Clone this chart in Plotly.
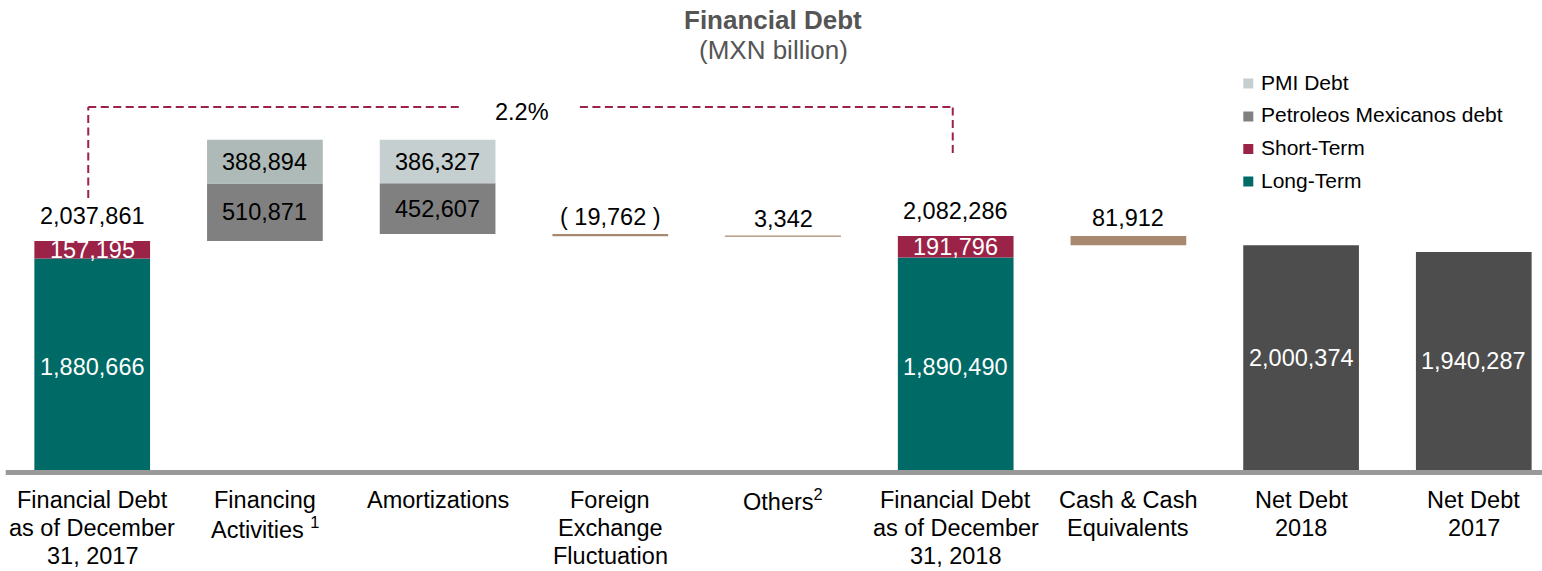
import plotly.graph_objects as go

# ---- data (MXN million) ----
categories = [
    "Financial Debt<br>as of December<br>31, 2017",
    "Financing<br>Activities <sup>1</sup>",
    "Amortizations",
    "Foreign<br>Exchange<br>Fluctuation",
    "Others<sup>2</sup>",
    "Financial Debt<br>as of December<br>31, 2018",
    "Cash & Cash<br>Equivalents",
    "Net Debt<br>2018",
    "Net Debt<br>2017",
]
long_term = [1880666, 1890490]          # 2017, 2018
short_term = [157195, 191796]           # 2017, 2018
pemex_debt = [510871, 452607]           # financing, amortizations
pmi_debt = [388894, 386327]             # financing, amortizations
fx_change = -19762
others_change = 3342
cash = 81912
net_debt = [2000374, 1940287]           # 2018, 2017

# ---- colours ----
TEAL = "#006a66"
MAROON = "#9b2347"
GRAY = "#808080"
PMI_FIN = "#aebab7"
PMI_AMO = "#c6cfcf"
TAN = "#a8896f"
DARK = "#4d4d4d"
FONT = "Liberation Sans, Arial, sans-serif"

# ---- waterfall levels ----
start_total = long_term[0] + short_term[0]
fin_top = start_total + pemex_debt[0] + pmi_debt[0]
amort_bottom = fin_top - (pemex_debt[1] + pmi_debt[1])
fx_end = amort_bottom + fx_change
others_end = fx_end + others_change
end_total = long_term[1] + short_term[1]
cash_bottom = end_total - cash
growth = (end_total / start_total - 1) * 100

c = categories
W, H, PLOT_H = 1542, 571, 470
BAR_W = 0.67


def fmt(v):
    return f"{v:,.0f}"


def pyp(p):
    # paper y from a pixel row measured from the top of the figure
    return (PLOT_H - p) / PLOT_H


fig = go.Figure()

fig.add_trace(go.Bar(x=[c[0], c[5]], y=long_term, base=[0, 0],
                     marker=dict(color=TEAL, line=dict(width=0)),
                     width=BAR_W, name="Long-Term", hoverinfo="skip"))
fig.add_trace(go.Bar(x=[c[0], c[5]], y=short_term, base=long_term,
                     marker=dict(color=MAROON, line=dict(width=0)),
                     width=BAR_W, name="Short-Term", hoverinfo="skip"))
fig.add_trace(go.Bar(x=[c[1], c[2]], y=pemex_debt,
                     base=[start_total, amort_bottom],
                     marker=dict(color=GRAY, line=dict(width=0)),
                     width=BAR_W, name="Petroleos Mexicanos debt", hoverinfo="skip"))
fig.add_trace(go.Bar(x=[c[1], c[2]], y=pmi_debt,
                     base=[start_total + pemex_debt[0], amort_bottom + pemex_debt[1]],
                     marker=dict(color=[PMI_FIN, PMI_AMO], line=dict(width=0)),
                     width=BAR_W, name="PMI Debt", hoverinfo="skip"))
fig.add_trace(go.Bar(x=[c[3]], y=[abs(fx_change)], base=[fx_end],
                     marker=dict(color=TAN, line=dict(width=0)),
                     width=BAR_W, name="FX", hoverinfo="skip"))
fig.add_trace(go.Bar(x=[c[4]], y=[others_change], base=[fx_end],
                     marker=dict(color=TAN, line=dict(width=0.7, color=TAN)),
                     width=BAR_W, name="Others", hoverinfo="skip"))
fig.add_trace(go.Bar(x=[c[6]], y=[cash], base=[cash_bottom],
                     marker=dict(color=TAN, line=dict(width=0)),
                     width=BAR_W, name="Cash", hoverinfo="skip"))
fig.add_trace(go.Bar(x=[c[7], c[8]], y=net_debt, base=[0, 0],
                     marker=dict(color=DARK, line=dict(width=0)),
                     width=BAR_W, name="Net Debt", hoverinfo="skip"))

ann = []


def label(x, y, text, color="black", yshift=0, size=23.5):
    ann.append(dict(x=x, y=y, xref="x", yref="y", text=text, showarrow=False,
                    xanchor="center", yanchor="middle", yshift=yshift,
                    font=dict(family=FONT, size=size, color=color)))


# values inside the segments
label(c[0], long_term[0] / 2, fmt(long_term[0]), "white", yshift=-3)
label(c[0], long_term[0] + short_term[0] / 2, fmt(short_term[0]), "white")
label(c[5], long_term[1] / 2, fmt(long_term[1]), "white", yshift=-3)
label(c[5], long_term[1] + short_term[1] / 2, fmt(short_term[1]), "white")
label(c[1], start_total + pemex_debt[0] / 2, fmt(pemex_debt[0]))
label(c[1], start_total + pemex_debt[0] + pmi_debt[0] / 2, fmt(pmi_debt[0]))
label(c[2], amort_bottom + pemex_debt[1] / 2, fmt(pemex_debt[1]))
label(c[2], amort_bottom + pemex_debt[1] + pmi_debt[1] / 2, fmt(pmi_debt[1]))
label(c[7], net_debt[0] / 2, fmt(net_debt[0]), "white")
label(c[8], net_debt[1] / 2, fmt(net_debt[1]), "white")

# values above the bars
label(c[0], start_total, fmt(start_total), yshift=25)
label(c[5], end_total, fmt(end_total), yshift=25)
label(c[3], amort_bottom, f"( {fmt(abs(fx_change))} )", yshift=17)
label(c[4], others_end, fmt(others_change), yshift=17)
label(c[6], end_total, fmt(cash), yshift=18)

# category labels, one annotation per text line
for cat in categories:
    for i, line in enumerate(cat.split("<br>")):
        ann.append(dict(x=cat, y=pyp(500 + 27.8 * i), xref="x", yref="paper",
                        text=line, showarrow=False, xanchor="center",
                        yanchor="middle",
                        font=dict(family=FONT, size=23.5, color="black")))

# title
ann.append(dict(x=773 / W, y=pyp(20), xref="paper", yref="paper",
                text="<b>Financial Debt</b>", showarrow=False,
                xanchor="center", yanchor="middle",
                font=dict(family=FONT, size=26, color="#555555")))
ann.append(dict(x=773 / W, y=pyp(50), xref="paper", yref="paper",
                text="(MXN billion)", showarrow=False,
                xanchor="center", yanchor="middle",
                font=dict(family=FONT, size=26, color="#555555")))

# growth bracket between the two totals
BRACKET_Y = 3229500
growth_x = 2.487
ann.append(dict(x=growth_x, y=BRACKET_Y, xref="x", yref="y",
                text=f"{growth:.1f}%", showarrow=False, yshift=-5,
                xanchor="center", yanchor="middle",
                font=dict(family=FONT, size=23.5, color="black")))

dash_line = dict(color=MAROON, width=2, dash="8px,4.5px")
shapes = [
    dict(type="line", xref="x", yref="y", x0=-0.023, x1=-0.023,
         y0=2420000, y1=BRACKET_Y, line=dash_line),
    dict(type="line", xref="x", yref="y", x0=-0.023, x1=2.141,
         y0=BRACKET_Y, y1=BRACKET_Y, line=dash_line),
    dict(type="line", xref="x", yref="y", x0=2.824, x1=4.983,
         y0=BRACKET_Y, y1=BRACKET_Y, line=dash_line),
    dict(type="line", xref="x", yref="y", x0=4.983, x1=4.983,
         y0=2820000, y1=BRACKET_Y, line=dash_line),
    # baseline
    dict(type="line", xref="paper", yref="paper", x0=5.7 / W, x1=1,
         y0=-2.5 / PLOT_H, y1=-2.5 / PLOT_H,
         line=dict(color="#999999", width=5)),
]

# legend drawn as swatches + text
legend_items = [("PMI Debt", PMI_AMO, 82), ("Petroleos Mexicanos debt", GRAY, 115),
                ("Short-Term", MAROON, 147.5), ("Long-Term", TEAL, 180)]
for name, col, yc in legend_items:
    shapes.append(dict(type="rect", xref="paper", yref="paper",
                       x0=1243.3 / W, x1=1253.3 / W,
                       y0=pyp(yc + 1.5 + 5), y1=pyp(yc + 1.5 - 5),
                       fillcolor=col, line=dict(width=0)))
    ann.append(dict(x=1259 / W, y=pyp(yc), xref="paper", yref="paper",
                    text=name, showarrow=False, xanchor="left", yanchor="middle",
                    font=dict(family=FONT, size=21, color="black")))

fig.update_layout(
    template="none",
    width=W, height=H,
    margin=dict(l=0, r=0, t=0, b=H - PLOT_H, pad=0),
    paper_bgcolor="white", plot_bgcolor="white",
    barmode="overlay", showlegend=False,
    xaxis=dict(type="category", categoryorder="array", categoryarray=categories,
               range=[-0.534, 8.395], showticklabels=False, showgrid=False,
               zeroline=False, showline=False, ticks=""),
    yaxis=dict(range=[0, 4181500], visible=False, showgrid=False, zeroline=False),
    annotations=ann, shapes=shapes,
)

fig.write_html("out.html")
